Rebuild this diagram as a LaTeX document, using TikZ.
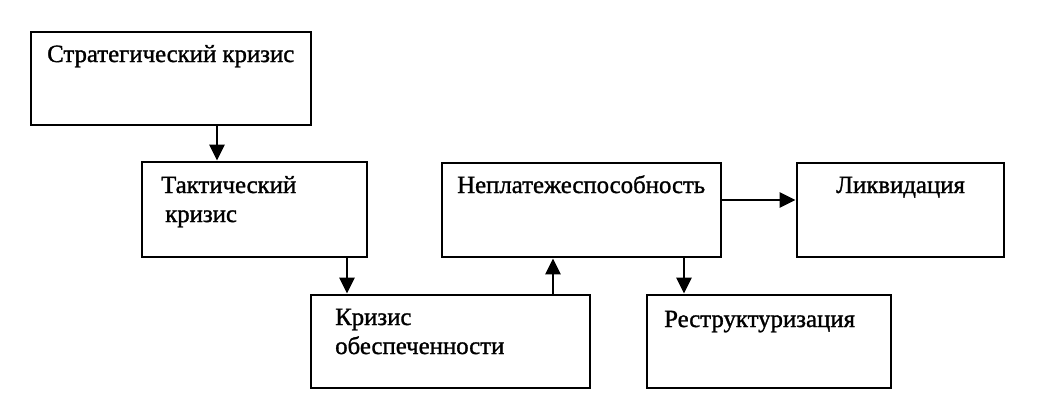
\documentclass[tikz,border=0pt]{standalone}
\usepackage{fontspec}
\setmainfont{Liberation Serif}[BoldFont={Liberation Serif},BoldFeatures={FakeBold=1.2}]
\usetikzlibrary{arrows.meta}
\begin{document}
\begin{tikzpicture}[x=1pt,y=-1pt,
  box/.style={draw,line width=2.8pt,inner sep=0pt,minimum width=#1},
  txt/.style={anchor=base west,inner sep=0pt,font=\fontsize{24.8}{29}\selectfont\bfseries},
  arr/.style={line width=2.8pt,-{Triangle[width=15pt,length=16pt]}}]
\useasboundingbox (0,0) rectangle (1044,402);
% boxes
\node[box=280pt,minimum height=93pt] (b1) at (171,78.5) {};
\node[box=225pt,minimum height=95pt] (b2) at (254.5,209.5) {};
\node[box=279pt,minimum height=93pt] (b3) at (450.5,341.5) {};
\node[box=279pt,minimum height=94pt] (b4) at (581.5,210) {};
\node[box=207pt,minimum height=94pt] (b5) at (900.5,210) {};
\node[box=244pt,minimum height=93pt] (b6) at (769,341.5) {};
% texts
\node[txt] (t1) at (47,62) {Стратегический кризис};
\node[txt] (t2a) at (161,193) {Тактический};
\node[txt] (t2b) at (165,222) {кризис};
\node[txt] (t3a) at (335,325) {Кризис};
\node[txt] (t3b) at (335,354) {обеспеченности};
\node[txt] (t4) at (457,193) {Неплатежеспособность};
\node[txt] (t5) at (836,193) {Ликвидация};
\node[txt] (t6) at (664,327) {Реструктуризация};
% connectors
\coordinate (c1) at (217,0);
\coordinate (c2) at (347,0);
\coordinate (c3) at (553,0);
\coordinate (c4) at (684,0);
\coordinate (c5) at (0,200);
\draw[arr] (b1.south -| c1) -- (b2.north -| c1);
\draw[arr] (b2.south -| c2) -- (b3.north -| c2);
\draw[arr] (b3.north -| c3) -- (b4.south -| c3);
\draw[arr] (b4.south -| c4) -- (b6.north -| c4);
\draw[arr] (b4.east |- c5) -- (b5.west |- c5);
\end{tikzpicture}
\end{document}
